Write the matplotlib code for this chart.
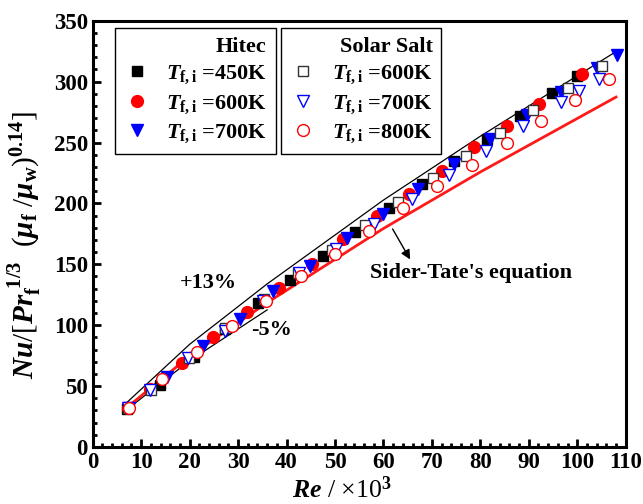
import numpy as np
import matplotlib
matplotlib.use('Agg')
from matplotlib import pyplot as plt

plt.rcParams['font.family'] = ['Liberation Serif', 'DejaVu Serif']
plt.rcParams['font.weight'] = 'bold'
plt.rcParams['mathtext.fontset'] = 'custom'
plt.rcParams['mathtext.rm'] = 'Liberation Serif:bold'
plt.rcParams['mathtext.it'] = 'Liberation Serif:bold:italic'
plt.rcParams['mathtext.bf'] = 'Liberation Serif:bold'

# Hitec, filled markers
re_h450 = [7.0, 13.9, 20.8, 27.4, 34.2, 40.8, 47.6, 54.1, 61.2, 67.9, 74.6, 81.3, 88.1, 94.7, 99.9]
nu_h450 = [31.5, 50.9, 73.5, 97.0, 118.5, 137.0, 157.0, 176.3, 196.0, 215.7, 235.0, 253.0, 271.8, 291.0, 304.6]
re_h600 = [7.3, 11.8, 18.4, 24.9, 31.8, 38.4, 45.2, 51.7, 58.6, 65.3, 72.0, 78.7, 85.4, 92.1, 100.9]
nu_h600 = [32.0, 47.4, 68.7, 90.2, 110.6, 130.8, 150.2, 170.5, 189.7, 208.0, 226.8, 246.0, 263.5, 282.0, 306.0]
re_h700 = [7.5, 15.3, 22.8, 30.3, 37.3, 44.9, 52.4, 59.9, 67.2, 74.6, 82.0, 89.6, 96.6, 104.0, 108.2]
nu_h700 = [32.0, 57.7, 82.9, 105.5, 128.0, 149.0, 172.0, 191.3, 211.6, 232.0, 252.6, 272.6, 291.7, 311.0, 321.8]

# Solar Salt, open markers
re_s600 = [7.3, 12.0, 19.8, 27.3, 35.4, 42.4, 49.3, 56.2, 63.1, 70.2, 77.0, 84.1, 90.9, 98.0, 105.1]
nu_s600 = [32.0, 47.0, 73.0, 98.0, 121.5, 142.6, 162.0, 182.3, 200.9, 220.6, 239.0, 257.5, 276.7, 295.0, 312.8]
re_s700 = [7.3, 11.8, 19.7, 27.3, 35.2, 42.6, 50.3, 58.1, 65.8, 73.5, 81.2, 88.9, 96.6, 100.4, 104.4]
nu_s700 = [32.0, 47.0, 72.8, 95.5, 119.8, 142.6, 162.5, 182.8, 203.6, 223.3, 243.0, 263.5, 283.0, 292.6, 302.0]
re_s800 = [7.4, 14.4, 21.5, 28.7, 35.8, 42.9, 50.0, 57.1, 64.1, 71.1, 78.3, 85.4, 92.5, 99.6, 106.6]
nu_s800 = [31.8, 55.8, 78.2, 99.5, 119.6, 140.1, 158.3, 177.6, 196.0, 214.3, 231.5, 249.8, 267.6, 285.0, 302.0]

# Sider-Tate correlation curve and the deviation band
re_st = [7.0, 20.0, 36.0, 60.0, 80.0, 108.0]
nu_st = [32.2, 74.6, 118.5, 179.4, 225.8, 287.3]
dev_hi = 0.13
dev_lo = -0.05

fig = plt.figure(figsize=(6.43, 5.04), dpi=100)
ax = fig.add_axes([0.1442, 0.1131, 0.8289, 0.8458])

re_st = np.array(re_st)
nu_st = np.array(nu_st)
ax.plot(re_st, nu_st * (1 + dev_hi), 'k-', lw=0.9, zorder=1)
ax.plot(re_st[:3], nu_st[:3] * (1 + dev_lo), 'k-', lw=0.9, zorder=1)
ax.plot(re_st, nu_st, '-', color='#ff1a1a', lw=2.0, zorder=1)

ms = 8
h1, = ax.plot(re_h450, nu_h450, 's', color='black', ms=ms - 0.5, ls='none', zorder=3)
h2, = ax.plot(re_h600, nu_h600, 'o', color='#ff0000', ms=ms + 0.5, ls='none', zorder=3)
h3, = ax.plot(re_h700, nu_h700, 'v', color='#0000ff', ms=ms + 0.5, ls='none', zorder=3)
s1, = ax.plot(re_s600, nu_s600, 's', mfc='white', mec='#333333', mew=1.0, ms=ms - 0.5, ls='none', zorder=3)
s2, = ax.plot(re_s700, nu_s700, 'v', mfc='white', mec='#0000ff', mew=1.0, ms=ms + 0.5, ls='none', zorder=3)
s3, = ax.plot(re_s800, nu_s800, 'o', mfc='white', mec='#ff0000', mew=1.0, ms=ms + 0.5, ls='none', zorder=3)

ax.set_xlim(0, 110)
ax.set_ylim(0, 350)
ax.set_xticks(np.arange(0, 111, 10))
ax.set_xticks(np.arange(0, 111, 2), minor=True)
ax.set_yticks(np.arange(0, 351, 50))
ax.set_yticks(np.arange(0, 351, 10), minor=True)
ax.tick_params(which='both', direction='in', top=False, right=False, labelsize=16.5, width=2)
ax.tick_params(which='major', length=6)
ax.tick_params(which='minor', length=3)
for sp in ax.spines.values():
    sp.set_linewidth(2.2)

ax.set_xlabel(r'$Re$ / ×10$^3$', fontsize=18.5)
ax.xaxis.set_label_coords(0.468, -0.07)
ax.set_ylabel(r'$Nu$/[$Pr_{\rm f}^{\ 1/3}$  ($\mu_{\rm f}$ /$\mu_{\rm w}$)$^{0.14}$]', fontsize=21)
ax.yaxis.set_label_coords(-0.092, 0.474)

lab = r'$T_{\rm f,i}$ ='
leg_kw = dict(fontsize=16, frameon=True, fancybox=False, edgecolor='black', framealpha=1,
              handletextpad=0.7, borderpad=0.4, labelspacing=0.3, handlelength=1.2,
              borderaxespad=0, title_fontproperties={'weight': 'bold', 'size': 16})
leg1 = ax.legend([h1, h2, h3], [lab + '450K', lab + '600K', lab + '700K'], title='Hitec',
                 loc='upper left', bbox_to_anchor=(0.042, 0.983), **leg_kw)
leg1.get_frame().set_linewidth(1.0)
leg1._legend_box.align = 'right'
ax.add_artist(leg1)
leg2 = ax.legend([s1, s2, s3], [lab + '600K', lab + '700K', lab + '800K'], title='Solar Salt',
                 loc='upper left', bbox_to_anchor=(0.353, 0.983), **leg_kw)
leg2.get_frame().set_linewidth(1.0)
leg2._legend_box.align = 'right'

ax.text(23.8, 134.6, '+13%', fontsize=16, ha='center', va='center')
ax.text(37.0, 96.0, '-5%', fontsize=16, ha='center', va='center')
ax.text(57.2, 143.0, "Sider-Tate's equation", fontsize=16, ha='left', va='center')
ax.annotate('', xy=(65.8, 152.0), xytext=(61.6, 181.0),
            arrowprops=dict(arrowstyle='-|>', color='black', lw=1.0, mutation_scale=14))

fig.savefig('out.png', dpi=100)
